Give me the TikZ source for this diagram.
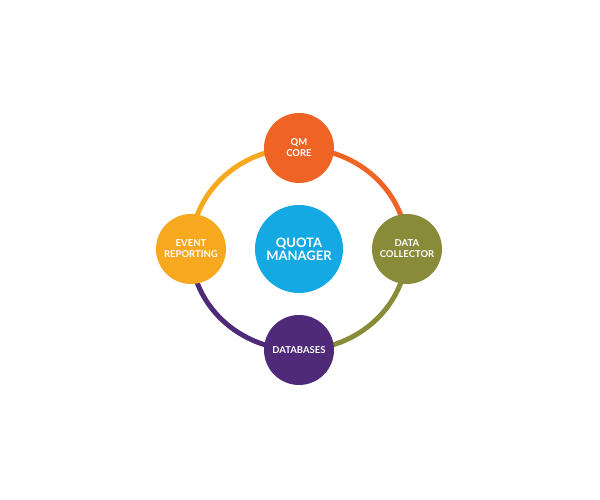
\documentclass[tikz,border=0pt]{standalone}
\usepackage{fontspec}
\setmainfont{Lato}
\usepackage{tikz}
\usetikzlibrary{positioning,backgrounds}
\definecolor{hubBlue}{HTML}{14A9E2}
\definecolor{coreOrange}{HTML}{EF6424}
\definecolor{collectOlive}{HTML}{8A8B38}
\definecolor{dbPurple}{HTML}{4E2A78}
\definecolor{eventYellow}{HTML}{F6A91F}
\tikzset{
  hub/.style={circle, fill=hubBlue, draw=none, minimum size=17.6mm, inner sep=0pt, align=center, text=white, font=\fontsize{7.4}{7.6}\selectfont\bfseries},
  satellite/.style={circle, draw=none, minimum size=14mm, inner sep=0pt, align=center, text=white, font=\fontsize{5.4}{6.3}\selectfont\bfseries},
  ringarc/.style={line width=2.8pt}
}
\begin{document}
\begin{tikzpicture}[node distance=20.2mm and 21.6mm, on grid]
  \useasboundingbox (0,0) rectangle (12,10);
  \node[hub] (qm) at (5.98,5.02) {QUOTA\\MANAGER};
  \node[satellite, fill=coreOrange, above=of qm] (core) {QM\\CORE};
  \node[satellite, fill=collectOlive, right=of qm] (collect) {DATA\\COLLECTOR};
  \node[satellite, fill=dbPurple, below=of qm] (db) {DATABASES};
  \node[satellite, fill=eventYellow, left=of qm] (event) {EVENT\\REPORTING};
  \begin{scope}[on background layer]
    \draw[ringarc, eventYellow] (event.center) arc[start angle=180, end angle=90, x radius=2.16, y radius=2.02];
    \draw[ringarc, coreOrange] (core.center) arc[start angle=90, end angle=0, x radius=2.16, y radius=2.02];
    \draw[ringarc, collectOlive] (collect.center) arc[start angle=0, end angle=-90, x radius=2.16, y radius=2.02];
    \draw[ringarc, dbPurple] (db.center) arc[start angle=-90, end angle=-180, x radius=2.16, y radius=2.02];
  \end{scope}
\end{tikzpicture}
\end{document}
